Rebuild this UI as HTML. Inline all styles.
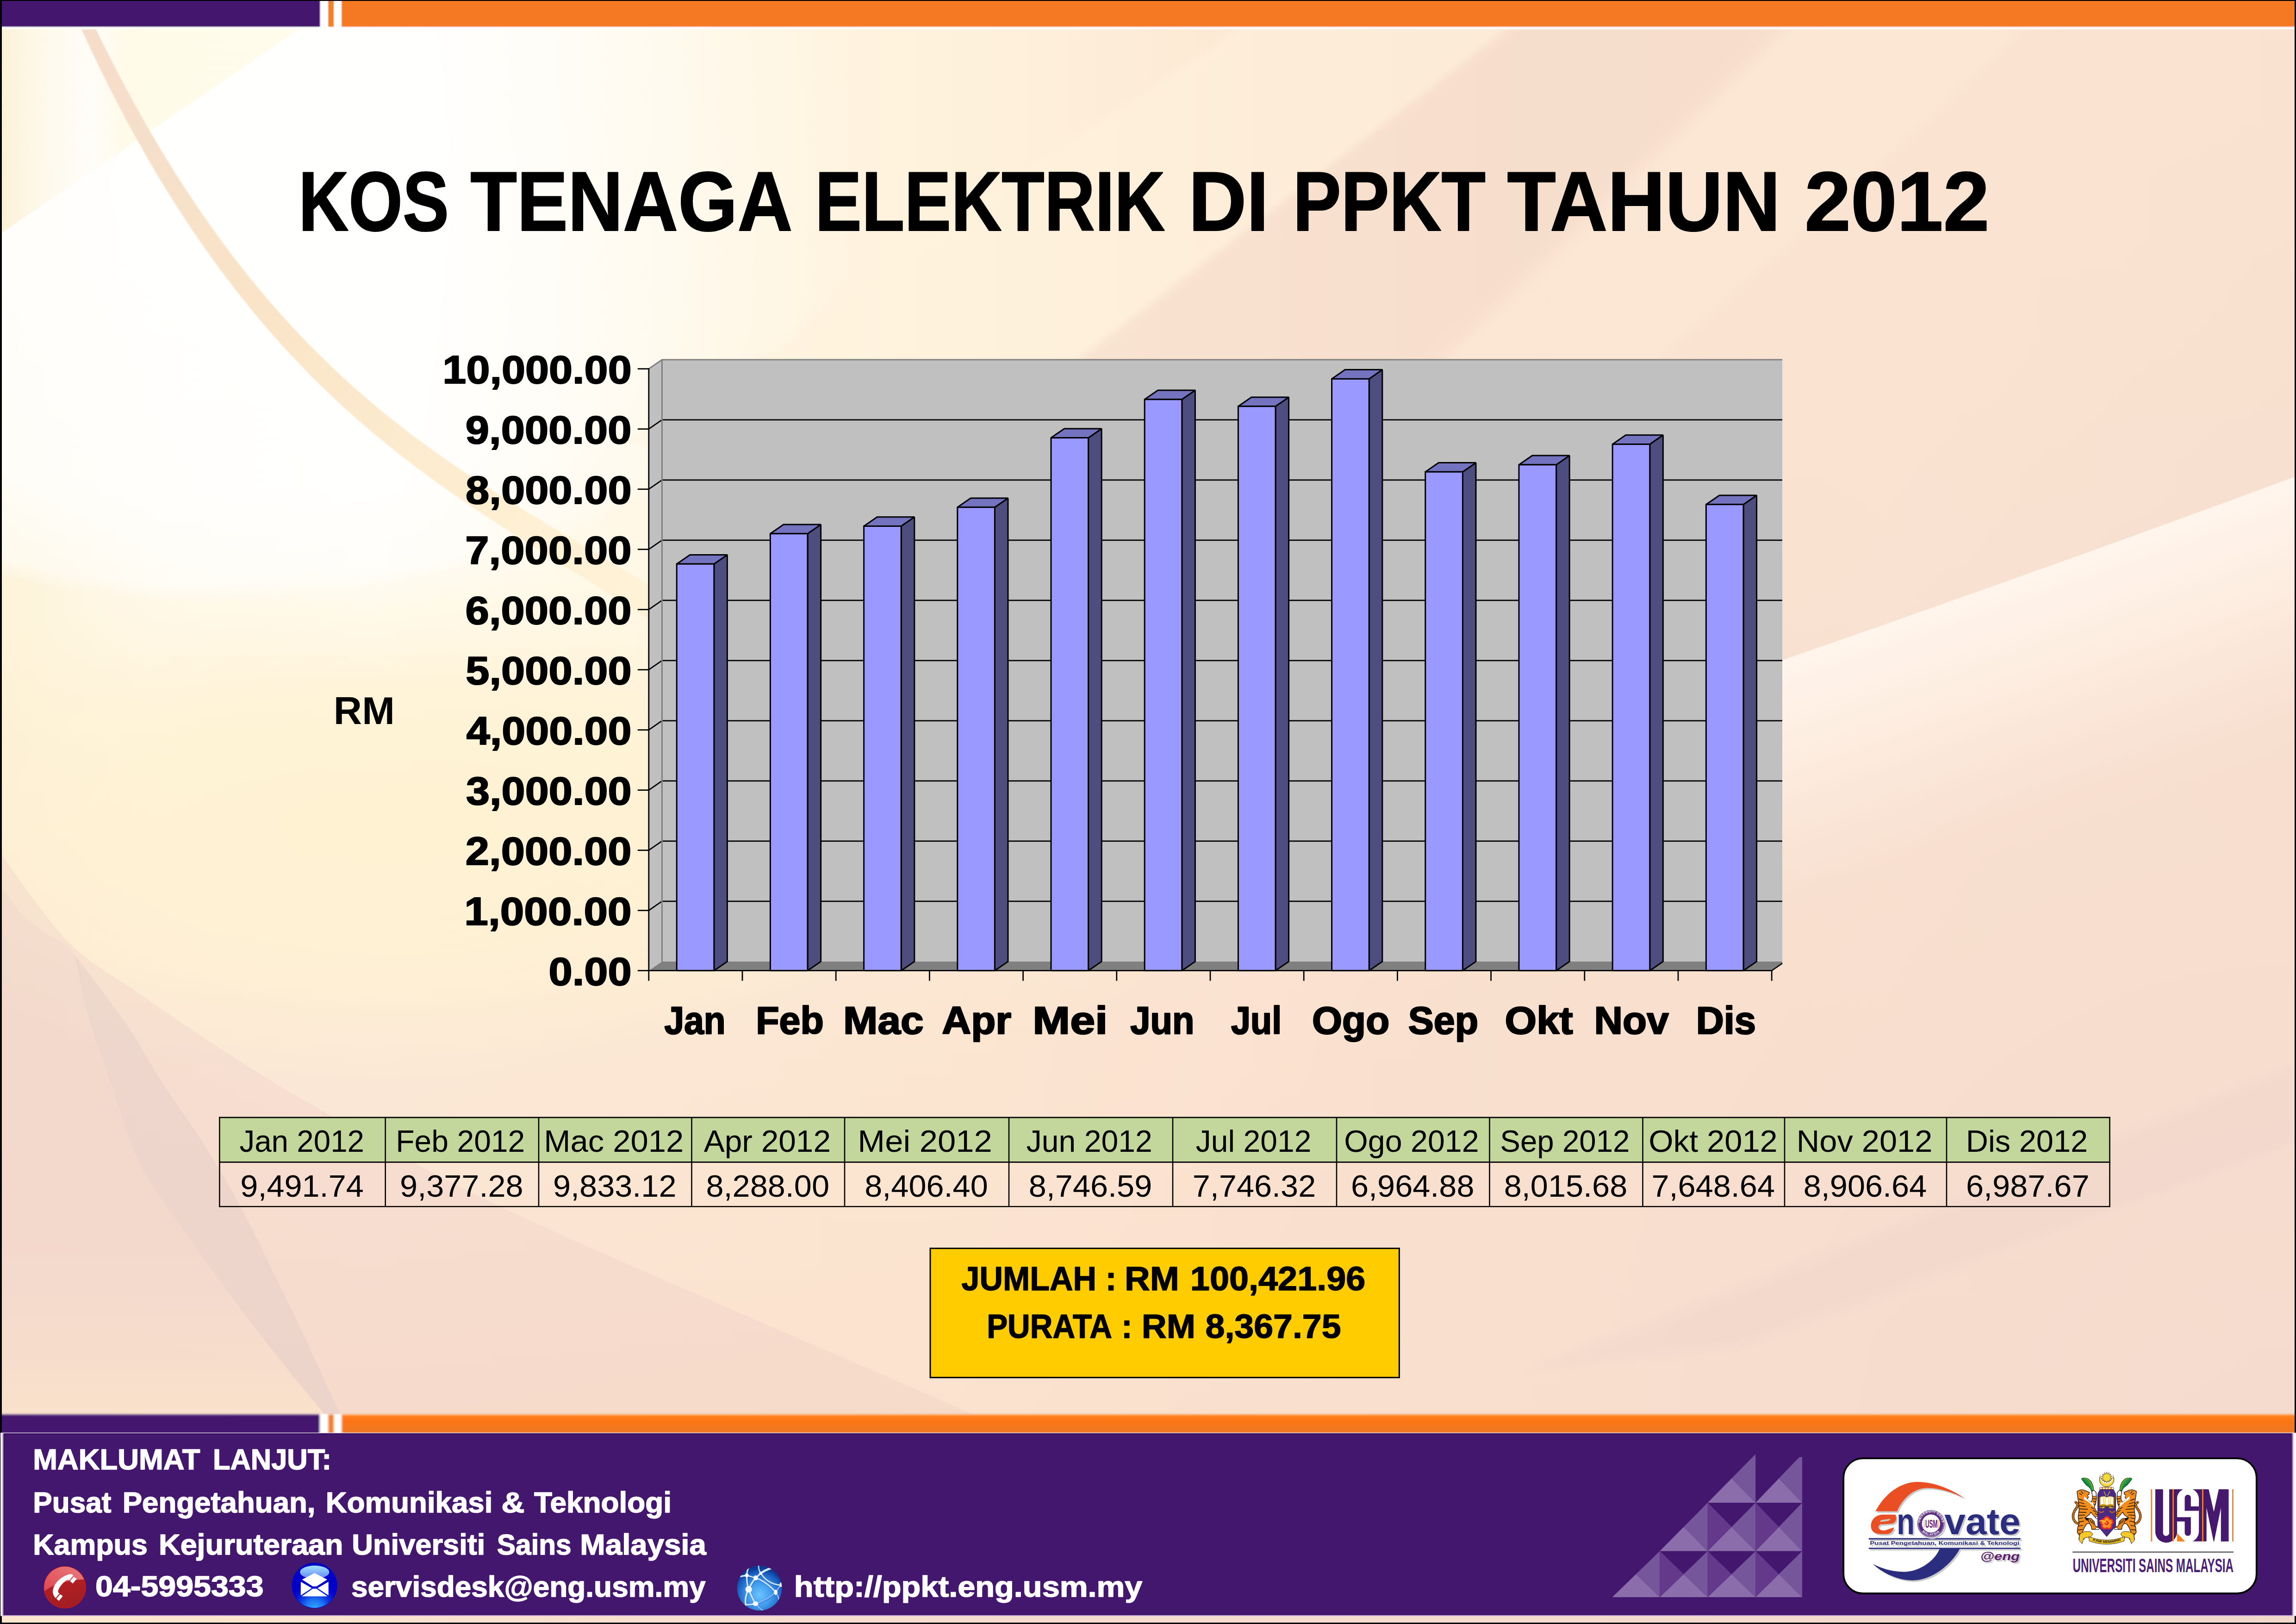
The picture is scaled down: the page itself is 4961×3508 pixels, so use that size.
<!DOCTYPE html>
<html><head><meta charset="utf-8"><title>Kos Tenaga Elektrik di PPKT Tahun 2012</title>
<style>
html,body{margin:0;padding:0;background:#000;}
body{width:4961px;height:3508px;overflow:hidden;position:relative;font-family:"Liberation Sans",sans-serif;}
svg{position:absolute;left:0;top:0;display:block}
text{font-family:"Liberation Sans",sans-serif;white-space:pre}
</style></head><body>
<svg width="4961" height="3508" viewBox="0 0 4961 3508">
<defs>
<linearGradient id="bgH" x1="0" y1="0" x2="1" y2="0">
<stop offset="0" stop-color="#FDF3D8"/><stop offset="0.07" stop-color="#FFF9EA"/><stop offset="0.16" stop-color="#FFFCF3"/><stop offset="0.30" stop-color="#FFF7E4"/>
<stop offset="0.44" stop-color="#FEF0DA"/><stop offset="0.55" stop-color="#FCE8D3"/><stop offset="0.67" stop-color="#F9E2CF"/><stop offset="0.82" stop-color="#FAE4D1"/><stop offset="1" stop-color="#F9E2D0"/>
</linearGradient>
<linearGradient id="bgV" x1="0" y1="0" x2="0" y2="1">
<stop offset="0" stop-color="#FAE2CE" stop-opacity="0"/><stop offset="0.40" stop-color="#FAE2CE" stop-opacity="0"/>
<stop offset="0.62" stop-color="#FAE2CE" stop-opacity="0.75"/><stop offset="0.87" stop-color="#FAE1CD" stop-opacity="0.95"/><stop offset="1" stop-color="#F8DECB" stop-opacity="1"/>
</linearGradient>
<radialGradient id="glowW" cx="0.5" cy="0.5" r="0.5"><stop offset="0" stop-color="#fff" stop-opacity="0.92"/><stop offset="0.75" stop-color="#fff" stop-opacity="0.8"/><stop offset="0.955" stop-color="#fff" stop-opacity="0.5"/><stop offset="1" stop-color="#fff" stop-opacity="0"/></radialGradient>
<linearGradient id="swG" gradientUnits="userSpaceOnUse" x1="4380" y1="1240" x2="4560" y2="1760"><stop offset="0" stop-color="#FFF5EC" stop-opacity="1"/><stop offset="0.4" stop-color="#FFF1E6" stop-opacity="0.7"/><stop offset="1" stop-color="#FBE6D8" stop-opacity="0"/></linearGradient>
<radialGradient id="glowY" cx="0.5" cy="0.5" r="0.5"><stop offset="0" stop-color="#FFF2D2" stop-opacity="1"/><stop offset="0.5" stop-color="#FFF2D2" stop-opacity="0.8"/><stop offset="1" stop-color="#FFF2D2" stop-opacity="0"/></radialGradient>
<linearGradient id="bandG" x1="0" y1="0" x2="1" y2="1">
<stop offset="0" stop-color="#F4DCCB"/><stop offset="0.4" stop-color="#FAE4C8"/><stop offset="0.7" stop-color="#FDEAC6" stop-opacity="0.8"/><stop offset="1" stop-color="#FEEFCB" stop-opacity="0.4"/>
</linearGradient>
<linearGradient id="orB" gradientUnits="userSpaceOnUse" x1="0" y1="3055" x2="0" y2="3096"><stop offset="0" stop-color="#FF8522"/><stop offset="0.35" stop-color="#FC7411"/><stop offset="1" stop-color="#EC7A28"/></linearGradient>
<filter id="blur40" x="-20%" y="-20%" width="140%" height="140%"><feGaussianBlur stdDeviation="40"/></filter>
<filter id="blur8" x="-20%" y="-20%" width="140%" height="140%"><feGaussianBlur stdDeviation="8"/></filter>
<filter id="blur2"><feGaussianBlur stdDeviation="1.2"/></filter>
<linearGradient id="fadeRg" gradientUnits="userSpaceOnUse" x1="900" y1="0" x2="1900" y2="0"><stop offset="0" stop-color="#fff"/><stop offset="1" stop-color="#000"/></linearGradient>
<mask id="fadeR" maskUnits="userSpaceOnUse" x="-1000" y="-600" width="3000" height="2000"><rect x="-1000" y="-600" width="3000" height="2000" fill="url(#fadeRg)"/></mask>
<filter id="blur25" x="-20%" y="-20%" width="140%" height="140%"><feGaussianBlur stdDeviation="22"/></filter>
<linearGradient id="warmG" gradientUnits="userSpaceOnUse" x1="0" y1="2300" x2="0" y2="3055"><stop offset="0" stop-color="#F3D9CD" stop-opacity="0"/><stop offset="0.5" stop-color="#F4DACD" stop-opacity="0.3"/><stop offset="1" stop-color="#FAE3CB" stop-opacity="0.85"/></linearGradient>
<linearGradient id="pinkRx" x1="0" y1="0" x2="1" y2="0"><stop offset="0" stop-color="#fff" stop-opacity="0"/><stop offset="0.5" stop-color="#fff" stop-opacity="0.8"/><stop offset="1" stop-color="#fff" stop-opacity="1"/></linearGradient>
<radialGradient id="pinkR" gradientUnits="userSpaceOnUse" cx="4961" cy="3150" r="2900"><stop offset="0" stop-color="#EED2CC" stop-opacity="0.45"/><stop offset="0.45" stop-color="#EFD3CD" stop-opacity="0.27"/><stop offset="1" stop-color="#EFD3CD" stop-opacity="0"/></radialGradient>
<linearGradient id="tlG" gradientUnits="userSpaceOnUse" x1="0" y1="0" x2="646" y2="0"><stop offset="0" stop-color="#FBEDC8" stop-opacity="0.75"/><stop offset="0.18" stop-color="#FCF2D8" stop-opacity="0.35"/><stop offset="0.31" stop-color="#FDF5E0" stop-opacity="0.18"/><stop offset="0.42" stop-color="#FFF8D8" stop-opacity="0.55"/><stop offset="1" stop-color="#FFF9DC" stop-opacity="0.5"/></linearGradient>
<clipPath id="page"><rect x="4" y="63" width="4954" height="2992"/></clipPath>
</defs>
<rect x="0" y="0" width="4961" height="3508" fill="#000"/>
<rect x="4" y="2" width="4954" height="3503" fill="url(#bgH)"/>

<g clip-path="url(#page)">
<rect x="4" y="2" width="4954" height="3503" fill="url(#bgV)"/>
<rect x="1900" y="100" width="3100" height="3000" fill="url(#pinkR)"/>
<polygon points="4961,2300 4961,2470 3760,2915 3300,2960" fill="#E9CFC9" opacity="0.22" filter="url(#blur8)"/>
<ellipse cx="480" cy="400" rx="1400" ry="905" fill="url(#glowW)" mask="url(#fadeR)"/>
<ellipse cx="850" cy="1780" rx="1250" ry="560" fill="url(#glowY)"/>
<polygon points="4,63 646,63 4,503" fill="url(#tlG)"/>
<polygon points="3389,-40 3969,-40 2929,960 2089,960" fill="#F5DBCA" opacity="0.5" filter="url(#blur8)"/>
<polygon points="2830,-40 3389,-40 2089,960 1341,960" fill="#FFF3DE" opacity="0.5" filter="url(#blur8)"/>
<polygon points="3969,-40 4480,-40 3400,960 2929,960" fill="#FEEDD9" opacity="0.42" filter="url(#blur25)"/>
<path d="M4961,1029 Q4430,1225 3851,1426 L3700,1480 L3700,2300 L4961,2000 Z" fill="url(#swG)"/>
<polygon points="147.8,1.5 169.8,49.7 191.6,96.7 213.3,142.4 235.1,186.7 257.2,229.7 279.3,271.3 301.6,311.7 323.9,350.8 346.4,388.7 369.0,425.5 391.7,461.1 414.4,495.5 437.3,528.9 460.2,561.2 483.2,592.5 506.3,622.8 529.5,652.1 552.7,680.5 576.0,708.0 599.3,734.6 622.7,760.4 646.1,785.3 669.6,809.5 693.1,832.9 716.7,855.6 740.3,877.5 763.9,898.8 787.6,919.5 811.2,939.6 834.9,959.1 858.6,978.0 882.2,996.4 905.9,1014.4 929.6,1031.8 953.2,1048.9 976.9,1065.5 1000.5,1081.8 1024.0,1097.8 1047.6,1113.4 1071.1,1128.8 1094.5,1144.0 1117.9,1158.9 1141.3,1173.6 1164.5,1188.2 1187.8,1202.7 1210.9,1217.0 1234.0,1231.4 1257.0,1245.6 1279.9,1259.9 1302.8,1274.3 1325.5,1288.6 1348.1,1303.1 1370.7,1317.7 1393.2,1332.4 1415.5,1347.4 1437.7,1362.5 1459.9,1377.9 1481.9,1393.5 1503.8,1409.5 1542.0,1356.6 1519.2,1340.6 1496.3,1325.0 1473.3,1309.7 1450.3,1294.7 1427.2,1279.9 1404.1,1265.3 1380.9,1251.0 1357.7,1236.8 1334.5,1222.7 1311.2,1208.8 1287.9,1194.9 1264.5,1181.0 1241.2,1167.2 1217.8,1153.3 1194.4,1139.4 1170.9,1125.3 1147.5,1111.2 1124.0,1096.9 1100.6,1082.4 1077.1,1067.7 1053.6,1052.8 1030.1,1037.5 1006.6,1022.0 983.1,1006.1 959.6,989.9 936.1,973.2 912.5,956.1 889.0,938.6 865.5,920.5 842.0,902.0 818.5,882.8 795.1,863.1 771.6,842.7 748.1,821.7 724.7,800.0 701.3,777.6 677.9,754.4 654.5,730.5 631.1,705.7 607.8,680.1 584.5,653.6 561.2,626.2 538.0,597.8 514.8,568.5 491.6,538.1 468.5,506.8 445.4,474.3 422.4,440.8 399.4,406.1 376.5,370.2 353.6,333.2 330.8,294.9 308.0,255.4 285.3,214.6 262.7,172.5 240.1,129.0 217.5,84.2 195.2,37.9 173.3,-10.0" fill="url(#bandG)" filter="url(#blur2)"/>
<path d="M4,1848 C28.0,1879.2 99.3,1985.8 148,2035 C196.7,2084.2 238.5,2102.8 296,2143 C353.5,2183.2 423.3,2231.7 493,2276 C562.7,2320.3 611.2,2351.7 714,2409 C816.8,2466.3 895.0,2519.5 1110,2620 C1325.0,2720.5 1837.3,2938.7 2004,3012 C2170.7,3085.3 2092.3,3052.0 2110,3060  L4,3060 Z" fill="#ECCDC8" opacity="0.34"/>
<path d="M163,2064 C181.8,2089.5 245.7,2172.7 276,2217 C306.3,2261.3 321.2,2293.0 345,2330 C368.8,2367.0 400.2,2410.7 419,2439 C437.8,2467.3 440.0,2469.8 458,2500 C476.0,2530.2 496.7,2561.7 527,2620 C557.3,2678.3 605.3,2777.7 640,2850 C674.7,2922.3 718.7,3019.0 735,3054 C751.3,3089.0 737.5,3059.0 738,3060  L703,3060 C702.5,3059.0 723.8,3084.0 700,3054 C676.2,3024.0 615.0,2952.3 560,2880 C505.0,2807.7 414.0,2683.3 370,2620 C326.0,2556.7 317.7,2546.7 296,2500 C274.3,2453.3 257.7,2391.3 240,2340 C222.3,2288.7 202.8,2238.0 190,2192 C177.2,2146.0 167.5,2085.3 163,2064  Z" fill="#DCC8C6" opacity="0.34"/>
<path d="M4,1917 C11.5,1926.8 33.3,1959.7 49,1976 C64.7,1992.3 79.0,2000.3 98,2015 C117.0,2029.7 147.7,2034.5 163,2064 C178.3,2093.5 177.2,2146.0 190,2192 C202.8,2238.0 222.3,2288.7 240,2340 C257.7,2391.3 274.3,2453.3 296,2500 C317.7,2546.7 326.0,2556.7 370,2620 C414.0,2683.3 505.0,2807.7 560,2880 C615.0,2952.3 676.2,3024.0 700,3054 C723.8,3084.0 702.5,3059.0 703,3060  L4,3060 Z" fill="#E9CBC8" opacity="0.22"/>
<path d="M4,1917 C11.5,1926.8 33.3,1959.7 49,1976 C64.7,1992.3 79.0,2000.3 98,2015 C117.0,2029.7 147.7,2034.5 163,2064 C178.3,2093.5 177.2,2146.0 190,2192 C202.8,2238.0 222.3,2288.7 240,2340 C257.7,2391.3 274.3,2453.3 296,2500 C317.7,2546.7 326.0,2556.7 370,2620 C414.0,2683.3 505.0,2807.7 560,2880 C615.0,2952.3 676.2,3024.0 700,3054 C723.8,3084.0 702.5,3059.0 703,3060  L4,3060 Z" fill="url(#warmG)"/>
</g>
<defs><filter id="blurTop" x="-1%" y="-30%" width="102%" height="160%"><feGaussianBlur stdDeviation="1.1"/></filter></defs>
<g filter="url(#blurTop)">
<rect x="-10" y="-10" width="4990" height="73" fill="#fff"/>
<rect x="-10" y="-10" width="701.5" height="68" fill="#44176E"/>
<rect x="709" y="-10" width="12.3" height="68" fill="#F08228"/>
<rect x="738" y="-10" width="4240" height="68" fill="#F47920"/>
</g>
<rect x="0" y="0" width="4961" height="2" fill="#000"/><rect x="0" y="0" width="4" height="70" fill="#000"/><rect x="4958" y="0" width="3" height="70" fill="#000"/>
<defs><linearGradient id="stripG" x1="0" y1="0" x2="1" y2="0"><stop offset="0" stop-color="#FEE6CE"/><stop offset="0.35" stop-color="#F6DDCF"/><stop offset="1" stop-color="#F2D8CB"/></linearGradient><linearGradient id="ftL" gradientUnits="userSpaceOnUse" x1="1.2" y1="0" x2="11" y2="0"><stop offset="0" stop-color="#fff"/><stop offset="0.35" stop-color="#F6E9FB"/><stop offset="0.7" stop-color="#5B3A7C"/><stop offset="0.85" stop-color="#2F0F57"/><stop offset="1" stop-color="#44176E"/></linearGradient><linearGradient id="ftR" gradientUnits="userSpaceOnUse" x1="4961" y1="0" x2="4948" y2="0"><stop offset="0" stop-color="#fff"/><stop offset="0.4" stop-color="#F6E9FB"/><stop offset="0.75" stop-color="#3A1662"/><stop offset="1" stop-color="#44176E"/></linearGradient><filter id="blurBar" x="-1%" y="-30%" width="102%" height="160%"><feGaussianBlur stdDeviation="2.3"/></filter></defs>
<rect x="4" y="3490" width="4954" height="15" fill="url(#stripG)"/>
<g filter="url(#blurBar)">
<rect x="-10" y="3055.5" width="4990" height="50" fill="#fff"/>
<rect x="-10" y="3055.5" width="701" height="50" fill="#44176E"/>
<rect x="709" y="3055.5" width="12.3" height="50" fill="#F08228"/>
<rect x="738" y="3055.5" width="4240" height="50" fill="url(#orB)"/>
</g>
<rect x="0" y="3040" width="4" height="56" fill="#000"/><rect x="4958" y="3040" width="3" height="56" fill="#000"/>
<rect x="1.2" y="3095.5" width="4959.8" height="395" fill="#44176E"/>
<rect x="1.2" y="3095.5" width="10" height="395" fill="url(#ftL)"/>
<rect x="4948" y="3095.5" width="13" height="395" fill="url(#ftR)"/>
<rect x="1.2" y="3094.6" width="4959.8" height="1.6" fill="#EADCF2"/>
<rect x="10" y="3096.2" width="4940" height="2" fill="#2E0C56"/>
<rect x="1.2" y="3489.2" width="4959.8" height="1.5" fill="#E6D6F0"/>
<text x="644.97" y="498.3" font-size="182.0" font-weight="bold" fill="#000" textLength="325.16" lengthAdjust="spacingAndGlyphs"  stroke="#000" stroke-width="2.2" stroke-linejoin="round">KOS</text>
<text x="1016.15" y="498.3" font-size="182.0" font-weight="bold" fill="#000" textLength="696.45" lengthAdjust="spacingAndGlyphs"  stroke="#000" stroke-width="2.2" stroke-linejoin="round">TENAGA</text>
<text x="1761.09" y="498.3" font-size="182.0" font-weight="bold" fill="#000" textLength="756.04" lengthAdjust="spacingAndGlyphs"  stroke="#000" stroke-width="2.2" stroke-linejoin="round">ELEKTRIK</text>
<text x="2567.98" y="498.3" font-size="182.0" font-weight="bold" fill="#000" textLength="173.65" lengthAdjust="spacingAndGlyphs"  stroke="#000" stroke-width="2.2" stroke-linejoin="round">DI</text>
<text x="2793.46" y="498.3" font-size="182.0" font-weight="bold" fill="#000" textLength="416.52" lengthAdjust="spacingAndGlyphs"  stroke="#000" stroke-width="2.2" stroke-linejoin="round">PPKT</text>
<text x="3256.48" y="498.3" font-size="182.0" font-weight="bold" fill="#000" textLength="590.53" lengthAdjust="spacingAndGlyphs"  stroke="#000" stroke-width="2.2" stroke-linejoin="round">TAHUN</text>
<text x="3899.22" y="498.3" font-size="182.0" font-weight="bold" fill="#000" textLength="399.25" lengthAdjust="spacingAndGlyphs"  stroke="#000" stroke-width="2.2" stroke-linejoin="round">2012</text>
<g stroke-linejoin="miter" stroke-miterlimit="2">
<polygon points="1401.8,796.6999999999998 1430.3999999999999,776.8999999999999 1430.3999999999999,2076.8999999999996 1401.8,2096.7" fill="#C0C0C0"/>
<rect x="1430.3999999999999" y="776.8999999999999" width="2420.6000000000004" height="1300.0" fill="#C0C0C0"/>
<polygon points="1401.8,2096.7 1430.3999999999999,2076.8999999999996 3851,2076.8999999999996 3851,2080.8999999999996 3828.2,2096.7" fill="#808080"/>
<path d="M1401.8,1966.6999999999998 L1430.3999999999999,1946.8999999999996 L3851,1946.8999999999996" fill="none" stroke="#000" stroke-width="2.8"/>
<path d="M1401.8,1836.6999999999998 L1430.3999999999999,1816.8999999999996 L3851,1816.8999999999996" fill="none" stroke="#000" stroke-width="2.8"/>
<path d="M1401.8,1706.6999999999998 L1430.3999999999999,1686.8999999999996 L3851,1686.8999999999996" fill="none" stroke="#000" stroke-width="2.8"/>
<path d="M1401.8,1576.6999999999998 L1430.3999999999999,1556.8999999999996 L3851,1556.8999999999996" fill="none" stroke="#000" stroke-width="2.8"/>
<path d="M1401.8,1446.6999999999998 L1430.3999999999999,1426.8999999999996 L3851,1426.8999999999996" fill="none" stroke="#000" stroke-width="2.8"/>
<path d="M1401.8,1316.6999999999998 L1430.3999999999999,1296.8999999999996 L3851,1296.8999999999996" fill="none" stroke="#000" stroke-width="2.8"/>
<path d="M1401.8,1186.6999999999998 L1430.3999999999999,1166.8999999999996 L3851,1166.8999999999996" fill="none" stroke="#000" stroke-width="2.8"/>
<path d="M1401.8,1056.6999999999998 L1430.3999999999999,1036.8999999999996 L3851,1036.8999999999996" fill="none" stroke="#000" stroke-width="2.8"/>
<path d="M1401.8,926.6999999999998 L1430.3999999999999,906.8999999999996 L3851,906.8999999999996" fill="none" stroke="#000" stroke-width="2.8"/>
<path d="M1401.8,796.6999999999998 L1430.3999999999999,776.8999999999999 L3851,776.8999999999999" fill="none" stroke="#808080" stroke-width="3"/>
<path d="M1430.3999999999999,776.8999999999999 L1430.3999999999999,2076.8999999999996" fill="none" stroke="#808080" stroke-width="3"/>
<path d="M3828.2,2096.7 L3851,2080.8999999999996" fill="none" stroke="#000" stroke-width="2.5"/>
<polygon points="1542.8,1218.2 1571.4,1198.4 1571.4,2076.9 1542.8,2096.7" fill="#4D4D80" stroke="#000" stroke-width="3"/>
<polygon points="1462.2,1218.2 1490.8,1198.4 1571.4,1198.4 1542.8,1218.2" fill="#7373BF" stroke="#000" stroke-width="3"/>
<rect x="1462.2" y="1218.2" width="80.6" height="878.5" fill="#9999FF" stroke="#000" stroke-width="3"/>
<polygon points="1745.0,1152.8 1773.6,1133.0 1773.6,2076.9 1745.0,2096.7" fill="#4D4D80" stroke="#000" stroke-width="3"/>
<polygon points="1664.4,1152.8 1693.0,1133.0 1773.6,1133.0 1745.0,1152.8" fill="#7373BF" stroke="#000" stroke-width="3"/>
<rect x="1664.4" y="1152.8" width="80.6" height="943.9" fill="#9999FF" stroke="#000" stroke-width="3"/>
<polygon points="1947.2,1136.5 1975.8,1116.7 1975.8,2076.9 1947.2,2096.7" fill="#4D4D80" stroke="#000" stroke-width="3"/>
<polygon points="1866.6,1136.5 1895.2,1116.7 1975.8,1116.7 1947.2,1136.5" fill="#7373BF" stroke="#000" stroke-width="3"/>
<rect x="1866.6" y="1136.5" width="80.6" height="960.2" fill="#9999FF" stroke="#000" stroke-width="3"/>
<polygon points="2149.4,1095.7 2178.0,1075.9 2178.0,2076.9 2149.4,2096.7" fill="#4D4D80" stroke="#000" stroke-width="3"/>
<polygon points="2068.8,1095.7 2097.4,1075.9 2178.0,1075.9 2149.4,1095.7" fill="#7373BF" stroke="#000" stroke-width="3"/>
<rect x="2068.8" y="1095.7" width="80.6" height="1001.0" fill="#9999FF" stroke="#000" stroke-width="3"/>
<polygon points="2351.6,945.7 2380.2,925.9 2380.2,2076.9 2351.6,2096.7" fill="#4D4D80" stroke="#000" stroke-width="3"/>
<polygon points="2271.0,945.7 2299.6,925.9 2380.2,925.9 2351.6,945.7" fill="#7373BF" stroke="#000" stroke-width="3"/>
<rect x="2271.0" y="945.7" width="80.6" height="1151.0" fill="#9999FF" stroke="#000" stroke-width="3"/>
<polygon points="2553.8,862.8 2582.4,843.0 2582.4,2076.9 2553.8,2096.7" fill="#4D4D80" stroke="#000" stroke-width="3"/>
<polygon points="2473.2,862.8 2501.8,843.0 2582.4,843.0 2553.8,862.8" fill="#7373BF" stroke="#000" stroke-width="3"/>
<rect x="2473.2" y="862.8" width="80.6" height="1233.9" fill="#9999FF" stroke="#000" stroke-width="3"/>
<polygon points="2756.0,877.7 2784.6,857.9 2784.6,2076.9 2756.0,2096.7" fill="#4D4D80" stroke="#000" stroke-width="3"/>
<polygon points="2675.4,877.7 2704.0,857.9 2784.6,857.9 2756.0,877.7" fill="#7373BF" stroke="#000" stroke-width="3"/>
<rect x="2675.4" y="877.7" width="80.6" height="1219.0" fill="#9999FF" stroke="#000" stroke-width="3"/>
<polygon points="2958.2,818.4 2986.8,798.6 2986.8,2076.9 2958.2,2096.7" fill="#4D4D80" stroke="#000" stroke-width="3"/>
<polygon points="2877.6,818.4 2906.2,798.6 2986.8,798.6 2958.2,818.4" fill="#7373BF" stroke="#000" stroke-width="3"/>
<rect x="2877.6" y="818.4" width="80.6" height="1278.3" fill="#9999FF" stroke="#000" stroke-width="3"/>
<polygon points="3160.4,1019.3 3189.0,999.5 3189.0,2076.9 3160.4,2096.7" fill="#4D4D80" stroke="#000" stroke-width="3"/>
<polygon points="3079.8,1019.3 3108.4,999.5 3189.0,999.5 3160.4,1019.3" fill="#7373BF" stroke="#000" stroke-width="3"/>
<rect x="3079.8" y="1019.3" width="80.6" height="1077.4" fill="#9999FF" stroke="#000" stroke-width="3"/>
<polygon points="3362.6,1003.9 3391.2,984.1 3391.2,2076.9 3362.6,2096.7" fill="#4D4D80" stroke="#000" stroke-width="3"/>
<polygon points="3282.0,1003.9 3310.6,984.1 3391.2,984.1 3362.6,1003.9" fill="#7373BF" stroke="#000" stroke-width="3"/>
<rect x="3282.0" y="1003.9" width="80.6" height="1092.8" fill="#9999FF" stroke="#000" stroke-width="3"/>
<polygon points="3564.8,959.6 3593.4,939.8 3593.4,2076.9 3564.8,2096.7" fill="#4D4D80" stroke="#000" stroke-width="3"/>
<polygon points="3484.2,959.6 3512.8,939.8 3593.4,939.8 3564.8,959.6" fill="#7373BF" stroke="#000" stroke-width="3"/>
<rect x="3484.2" y="959.6" width="80.6" height="1137.1" fill="#9999FF" stroke="#000" stroke-width="3"/>
<polygon points="3767.0,1089.7 3795.6,1069.9 3795.6,2076.9 3767.0,2096.7" fill="#4D4D80" stroke="#000" stroke-width="3"/>
<polygon points="3686.4,1089.7 3715.0,1069.9 3795.6,1069.9 3767.0,1089.7" fill="#7373BF" stroke="#000" stroke-width="3"/>
<rect x="3686.4" y="1089.7" width="80.6" height="1007.0" fill="#9999FF" stroke="#000" stroke-width="3"/>
<path d="M1401.8,795.2999999999998 L1401.8,2096.7" stroke="#000" stroke-width="2.8" fill="none"/>
<path d="M1377.8,2096.7 L3829.6,2096.7" stroke="#000" stroke-width="2.8" fill="none"/>
<path d="M1377.8,1966.6999999999998 L1401.8,1966.6999999999998" stroke="#000" stroke-width="2.8" fill="none"/>
<path d="M1377.8,1836.6999999999998 L1401.8,1836.6999999999998" stroke="#000" stroke-width="2.8" fill="none"/>
<path d="M1377.8,1706.6999999999998 L1401.8,1706.6999999999998" stroke="#000" stroke-width="2.8" fill="none"/>
<path d="M1377.8,1576.6999999999998 L1401.8,1576.6999999999998" stroke="#000" stroke-width="2.8" fill="none"/>
<path d="M1377.8,1446.6999999999998 L1401.8,1446.6999999999998" stroke="#000" stroke-width="2.8" fill="none"/>
<path d="M1377.8,1316.6999999999998 L1401.8,1316.6999999999998" stroke="#000" stroke-width="2.8" fill="none"/>
<path d="M1377.8,1186.6999999999998 L1401.8,1186.6999999999998" stroke="#000" stroke-width="2.8" fill="none"/>
<path d="M1377.8,1056.6999999999998 L1401.8,1056.6999999999998" stroke="#000" stroke-width="2.8" fill="none"/>
<path d="M1377.8,926.6999999999998 L1401.8,926.6999999999998" stroke="#000" stroke-width="2.8" fill="none"/>
<path d="M1377.8,796.6999999999998 L1401.8,796.6999999999998" stroke="#000" stroke-width="2.8" fill="none"/>
<path d="M1401.8,2096.7 L1401.8,2118.7" stroke="#000" stroke-width="2.8" fill="none"/>
<path d="M1604.0,2096.7 L1604.0,2118.7" stroke="#000" stroke-width="2.8" fill="none"/>
<path d="M1806.2,2096.7 L1806.2,2118.7" stroke="#000" stroke-width="2.8" fill="none"/>
<path d="M2008.4,2096.7 L2008.4,2118.7" stroke="#000" stroke-width="2.8" fill="none"/>
<path d="M2210.6,2096.7 L2210.6,2118.7" stroke="#000" stroke-width="2.8" fill="none"/>
<path d="M2412.8,2096.7 L2412.8,2118.7" stroke="#000" stroke-width="2.8" fill="none"/>
<path d="M2615.0,2096.7 L2615.0,2118.7" stroke="#000" stroke-width="2.8" fill="none"/>
<path d="M2817.2,2096.7 L2817.2,2118.7" stroke="#000" stroke-width="2.8" fill="none"/>
<path d="M3019.4,2096.7 L3019.4,2118.7" stroke="#000" stroke-width="2.8" fill="none"/>
<path d="M3221.6,2096.7 L3221.6,2118.7" stroke="#000" stroke-width="2.8" fill="none"/>
<path d="M3423.8,2096.7 L3423.8,2118.7" stroke="#000" stroke-width="2.8" fill="none"/>
<path d="M3626.0,2096.7 L3626.0,2118.7" stroke="#000" stroke-width="2.8" fill="none"/>
<path d="M3828.2,2096.7 L3828.2,2118.7" stroke="#000" stroke-width="2.8" fill="none"/>
</g>
<text x="1185.42" y="2128.0" font-size="86.0" font-weight="bold" fill="#000" textLength="179.30" lengthAdjust="spacingAndGlyphs"  stroke="#000" stroke-width="2.2" stroke-linejoin="round">0.00</text>
<text x="1003.30" y="1998.0" font-size="86.0" font-weight="bold" fill="#000" textLength="361.34" lengthAdjust="spacingAndGlyphs"  stroke="#000" stroke-width="2.2" stroke-linejoin="round">1,000.00</text>
<text x="1005.87" y="1868.0" font-size="86.0" font-weight="bold" fill="#000" textLength="358.73" lengthAdjust="spacingAndGlyphs"  stroke="#000" stroke-width="2.2" stroke-linejoin="round">2,000.00</text>
<text x="1007.03" y="1738.0" font-size="86.0" font-weight="bold" fill="#000" textLength="357.56" lengthAdjust="spacingAndGlyphs"  stroke="#000" stroke-width="2.2" stroke-linejoin="round">3,000.00</text>
<text x="1007.72" y="1608.0" font-size="86.0" font-weight="bold" fill="#000" textLength="356.86" lengthAdjust="spacingAndGlyphs"  stroke="#000" stroke-width="2.2" stroke-linejoin="round">4,000.00</text>
<text x="1006.34" y="1478.0" font-size="86.0" font-weight="bold" fill="#000" textLength="358.26" lengthAdjust="spacingAndGlyphs"  stroke="#000" stroke-width="2.2" stroke-linejoin="round">5,000.00</text>
<text x="1005.64" y="1348.0" font-size="86.0" font-weight="bold" fill="#000" textLength="358.97" lengthAdjust="spacingAndGlyphs"  stroke="#000" stroke-width="2.2" stroke-linejoin="round">6,000.00</text>
<text x="1005.18" y="1218.0" font-size="86.0" font-weight="bold" fill="#000" textLength="359.44" lengthAdjust="spacingAndGlyphs"  stroke="#000" stroke-width="2.2" stroke-linejoin="round">7,000.00</text>
<text x="1006.11" y="1088.0" font-size="86.0" font-weight="bold" fill="#000" textLength="358.50" lengthAdjust="spacingAndGlyphs"  stroke="#000" stroke-width="2.2" stroke-linejoin="round">8,000.00</text>
<text x="1005.87" y="958.0" font-size="86.0" font-weight="bold" fill="#000" textLength="358.73" lengthAdjust="spacingAndGlyphs"  stroke="#000" stroke-width="2.2" stroke-linejoin="round">9,000.00</text>
<text x="956.36" y="828.0" font-size="86.0" font-weight="bold" fill="#000" textLength="408.34" lengthAdjust="spacingAndGlyphs"  stroke="#000" stroke-width="2.2" stroke-linejoin="round">10,000.00</text>
<text x="1435.55" y="2233.2" font-size="83.6" font-weight="bold" fill="#000" textLength="132.10" lengthAdjust="spacingAndGlyphs"  stroke="#000" stroke-width="2.6" stroke-linejoin="round">Jan</text>
<text x="1633.23" y="2233.2" font-size="83.6" font-weight="bold" fill="#000" textLength="146.70" lengthAdjust="spacingAndGlyphs"  stroke="#000" stroke-width="2.6" stroke-linejoin="round">Feb</text>
<text x="1821.97" y="2233.2" font-size="83.6" font-weight="bold" fill="#000" textLength="173.82" lengthAdjust="spacingAndGlyphs"  stroke="#000" stroke-width="2.6" stroke-linejoin="round">Mac</text>
<text x="2035.32" y="2233.2" font-size="83.6" font-weight="bold" fill="#000" textLength="149.86" lengthAdjust="spacingAndGlyphs"  stroke="#000" stroke-width="2.6" stroke-linejoin="round">Apr</text>
<text x="2231.35" y="2233.2" font-size="83.6" font-weight="bold" fill="#000" textLength="161.80" lengthAdjust="spacingAndGlyphs"  stroke="#000" stroke-width="2.6" stroke-linejoin="round">Mei</text>
<text x="2442.33" y="2233.2" font-size="83.6" font-weight="bold" fill="#000" textLength="138.26" lengthAdjust="spacingAndGlyphs"  stroke="#000" stroke-width="2.6" stroke-linejoin="round">Jun</text>
<text x="2660.07" y="2233.2" font-size="83.6" font-weight="bold" fill="#000" textLength="109.22" lengthAdjust="spacingAndGlyphs"  stroke="#000" stroke-width="2.6" stroke-linejoin="round">Jul</text>
<text x="2834.95" y="2233.2" font-size="83.6" font-weight="bold" fill="#000" textLength="167.36" lengthAdjust="spacingAndGlyphs"  stroke="#000" stroke-width="2.6" stroke-linejoin="round">Ogo</text>
<text x="3042.72" y="2233.2" font-size="83.6" font-weight="bold" fill="#000" textLength="151.40" lengthAdjust="spacingAndGlyphs"  stroke="#000" stroke-width="2.6" stroke-linejoin="round">Sep</text>
<text x="3251.57" y="2233.2" font-size="83.6" font-weight="bold" fill="#000" textLength="147.09" lengthAdjust="spacingAndGlyphs"  stroke="#000" stroke-width="2.6" stroke-linejoin="round">Okt</text>
<text x="3444.54" y="2233.2" font-size="83.6" font-weight="bold" fill="#000" textLength="161.12" lengthAdjust="spacingAndGlyphs"  stroke="#000" stroke-width="2.6" stroke-linejoin="round">Nov</text>
<text x="3664.69" y="2233.2" font-size="83.6" font-weight="bold" fill="#000" textLength="129.44" lengthAdjust="spacingAndGlyphs"  stroke="#000" stroke-width="2.6" stroke-linejoin="round">Dis</text>
<text x="720.87" y="1563.5" font-size="83.6" font-weight="bold" fill="#000" textLength="131.97" lengthAdjust="spacingAndGlyphs" >RM</text>
<rect x="474.4" y="2413.9" width="4084.1" height="96.5" fill="#C3D69B"/>
<path d="M472.9,2413.9 L4560.0,2413.9" stroke="#000" stroke-width="2.6"/>
<path d="M472.9,2510.4 L4560.0,2510.4" stroke="#000" stroke-width="2.6"/>
<path d="M472.9,2606.2 L4560.0,2606.2" stroke="#000" stroke-width="2.6"/>
<path d="M474.4,2413.9 L474.4,2606.2" stroke="#000" stroke-width="2.6"/>
<path d="M832.7,2413.9 L832.7,2606.2" stroke="#000" stroke-width="2.6"/>
<path d="M1164,2413.9 L1164,2606.2" stroke="#000" stroke-width="2.6"/>
<path d="M1494.5,2413.9 L1494.5,2606.2" stroke="#000" stroke-width="2.6"/>
<path d="M1825,2413.9 L1825,2606.2" stroke="#000" stroke-width="2.6"/>
<path d="M2180,2413.9 L2180,2606.2" stroke="#000" stroke-width="2.6"/>
<path d="M2534,2413.9 L2534,2606.2" stroke="#000" stroke-width="2.6"/>
<path d="M2888,2413.9 L2888,2606.2" stroke="#000" stroke-width="2.6"/>
<path d="M3218.5,2413.9 L3218.5,2606.2" stroke="#000" stroke-width="2.6"/>
<path d="M3549.5,2413.9 L3549.5,2606.2" stroke="#000" stroke-width="2.6"/>
<path d="M3856,2413.9 L3856,2606.2" stroke="#000" stroke-width="2.6"/>
<path d="M4206,2413.9 L4206,2606.2" stroke="#000" stroke-width="2.6"/>
<path d="M4558.5,2413.9 L4558.5,2606.2" stroke="#000" stroke-width="2.6"/>
<text x="517.42" y="2487.5" font-size="67.0" font-weight="normal" fill="#000" textLength="269.62" lengthAdjust="spacingAndGlyphs" >Jan 2012</text>
<text x="519.33" y="2584.5" font-size="67" font-weight="normal" textLength="266.45" lengthAdjust="spacingAndGlyphs">9,491.74</text>
<text x="855.25" y="2487.5" font-size="67.0" font-weight="normal" fill="#000" textLength="279.10" lengthAdjust="spacingAndGlyphs" >Feb 2012</text>
<text x="864.13" y="2584.5" font-size="67" font-weight="normal" textLength="266.45" lengthAdjust="spacingAndGlyphs">9,377.28</text>
<text x="1175.33" y="2487.5" font-size="67.0" font-weight="normal" fill="#000" textLength="302.03" lengthAdjust="spacingAndGlyphs" >Mac 2012</text>
<text x="1195.03" y="2584.5" font-size="67" font-weight="normal" textLength="266.45" lengthAdjust="spacingAndGlyphs">9,833.12</text>
<text x="1520.63" y="2487.5" font-size="67.0" font-weight="normal" fill="#000" textLength="274.43" lengthAdjust="spacingAndGlyphs" >Apr 2012</text>
<text x="1525.53" y="2584.5" font-size="67" font-weight="normal" textLength="266.45" lengthAdjust="spacingAndGlyphs">8,288.00</text>
<text x="1853.38" y="2487.5" font-size="67.0" font-weight="normal" fill="#000" textLength="290.25" lengthAdjust="spacingAndGlyphs" >Mei 2012</text>
<text x="1868.28" y="2584.5" font-size="67" font-weight="normal" textLength="266.45" lengthAdjust="spacingAndGlyphs">8,406.40</text>
<text x="2217.81" y="2487.5" font-size="67.0" font-weight="normal" fill="#000" textLength="272.06" lengthAdjust="spacingAndGlyphs" >Jun 2012</text>
<text x="2222.78" y="2584.5" font-size="67" font-weight="normal" textLength="266.45" lengthAdjust="spacingAndGlyphs">8,746.59</text>
<text x="2583.71" y="2487.5" font-size="67.0" font-weight="normal" fill="#000" textLength="249.65" lengthAdjust="spacingAndGlyphs" >Jul 2012</text>
<text x="2576.78" y="2584.5" font-size="67" font-weight="normal" textLength="266.45" lengthAdjust="spacingAndGlyphs">7,746.32</text>
<text x="2904.15" y="2487.5" font-size="67.0" font-weight="normal" fill="#000" textLength="291.49" lengthAdjust="spacingAndGlyphs" >Ogo 2012</text>
<text x="2919.03" y="2584.5" font-size="67" font-weight="normal" textLength="266.45" lengthAdjust="spacingAndGlyphs">6,964.88</text>
<text x="3241.36" y="2487.5" font-size="67.0" font-weight="normal" fill="#000" textLength="280.04" lengthAdjust="spacingAndGlyphs" >Sep 2012</text>
<text x="3249.78" y="2584.5" font-size="67" font-weight="normal" textLength="266.45" lengthAdjust="spacingAndGlyphs">8,015.68</text>
<text x="3562.24" y="2487.5" font-size="67.0" font-weight="normal" fill="#000" textLength="278.54" lengthAdjust="spacingAndGlyphs" >Okt 2012</text>
<text x="3568.53" y="2584.5" font-size="67" font-weight="normal" textLength="266.45" lengthAdjust="spacingAndGlyphs">7,648.64</text>
<text x="3881.84" y="2487.5" font-size="67.0" font-weight="normal" fill="#000" textLength="293.44" lengthAdjust="spacingAndGlyphs" >Nov 2012</text>
<text x="3896.78" y="2584.5" font-size="67" font-weight="normal" textLength="266.45" lengthAdjust="spacingAndGlyphs">8,906.64</text>
<text x="4247.79" y="2487.5" font-size="67.0" font-weight="normal" fill="#000" textLength="263.37" lengthAdjust="spacingAndGlyphs" >Dis 2012</text>
<text x="4248.03" y="2584.5" font-size="67" font-weight="normal" textLength="266.45" lengthAdjust="spacingAndGlyphs">6,987.67</text>
<rect x="2010" y="2696.6" width="1013.4" height="279" fill="#FFCC00" stroke="#000" stroke-width="3"/>
<text x="2077.60" y="2787.2" font-size="71.6" font-weight="bold" fill="#000" textLength="291.41" lengthAdjust="spacingAndGlyphs"  stroke="#000" stroke-width="1.5" stroke-linejoin="round">JUMLAH</text>
<text x="2388.58" y="2787.2" font-size="71.6" font-weight="bold" fill="#000" textLength="24.07" lengthAdjust="spacingAndGlyphs"  stroke="#000" stroke-width="1.5" stroke-linejoin="round">:</text>
<text x="2430.14" y="2787.2" font-size="71.6" font-weight="bold" fill="#000" textLength="117.73" lengthAdjust="spacingAndGlyphs"  stroke="#000" stroke-width="1.5" stroke-linejoin="round">RM</text>
<text x="2571.82" y="2787.2" font-size="71.6" font-weight="bold" fill="#000" textLength="378.58" lengthAdjust="spacingAndGlyphs"  stroke="#000" stroke-width="1.5" stroke-linejoin="round">100,421.96</text>
<text x="2132.20" y="2889.5" font-size="71.6" font-weight="bold" fill="#000" textLength="270.64" lengthAdjust="spacingAndGlyphs"  stroke="#000" stroke-width="1.5" stroke-linejoin="round">PURATA</text>
<text x="2422.92" y="2889.5" font-size="71.6" font-weight="bold" fill="#000" textLength="23.60" lengthAdjust="spacingAndGlyphs"  stroke="#000" stroke-width="1.5" stroke-linejoin="round">:</text>
<text x="2466.71" y="2889.5" font-size="71.6" font-weight="bold" fill="#000" textLength="116.20" lengthAdjust="spacingAndGlyphs"  stroke="#000" stroke-width="1.5" stroke-linejoin="round">RM</text>
<text x="2604.50" y="2889.5" font-size="71.6" font-weight="bold" fill="#000" textLength="293.14" lengthAdjust="spacingAndGlyphs"  stroke="#000" stroke-width="1.5" stroke-linejoin="round">8,367.75</text>
<text x="71.27" y="3174.0" font-size="63.3" font-weight="bold" fill="#fff" textLength="361.30" lengthAdjust="spacingAndGlyphs"  stroke="#fff" stroke-width="1.5" stroke-linejoin="round">MAKLUMAT</text>
<text x="459.90" y="3174.0" font-size="63.3" font-weight="bold" fill="#fff" textLength="255.98" lengthAdjust="spacingAndGlyphs"  stroke="#fff" stroke-width="1.5" stroke-linejoin="round">LANJUT:</text>
<text x="71.36" y="3266.5" font-size="63.3" font-weight="bold" fill="#fff" textLength="169.01" lengthAdjust="spacingAndGlyphs"  stroke="#fff" stroke-width="1.5" stroke-linejoin="round">Pusat</text>
<text x="264.66" y="3266.5" font-size="63.3" font-weight="bold" fill="#fff" textLength="416.84" lengthAdjust="spacingAndGlyphs"  stroke="#fff" stroke-width="1.5" stroke-linejoin="round">Pengetahuan,</text>
<text x="703.75" y="3266.5" font-size="63.3" font-weight="bold" fill="#fff" textLength="360.69" lengthAdjust="spacingAndGlyphs"  stroke="#fff" stroke-width="1.5" stroke-linejoin="round">Komunikasi</text>
<text x="1083.22" y="3266.5" font-size="63.3" font-weight="bold" fill="#fff" textLength="50.27" lengthAdjust="spacingAndGlyphs"  stroke="#fff" stroke-width="1.5" stroke-linejoin="round">&amp;</text>
<text x="1154.11" y="3266.5" font-size="63.3" font-weight="bold" fill="#fff" textLength="296.95" lengthAdjust="spacingAndGlyphs"  stroke="#fff" stroke-width="1.5" stroke-linejoin="round">Teknologi</text>
<text x="71.32" y="3357.7" font-size="63.3" font-weight="bold" fill="#fff" textLength="247.47" lengthAdjust="spacingAndGlyphs"  stroke="#fff" stroke-width="1.5" stroke-linejoin="round">Kampus</text>
<text x="342.99" y="3357.7" font-size="63.3" font-weight="bold" fill="#fff" textLength="398.41" lengthAdjust="spacingAndGlyphs"  stroke="#fff" stroke-width="1.5" stroke-linejoin="round">Kejuruteraan</text>
<text x="760.36" y="3357.7" font-size="63.3" font-weight="bold" fill="#fff" textLength="288.00" lengthAdjust="spacingAndGlyphs"  stroke="#fff" stroke-width="1.5" stroke-linejoin="round">Universiti</text>
<text x="1073.64" y="3357.7" font-size="63.3" font-weight="bold" fill="#fff" textLength="161.06" lengthAdjust="spacingAndGlyphs"  stroke="#fff" stroke-width="1.5" stroke-linejoin="round">Sains</text>
<text x="1253.34" y="3357.7" font-size="63.3" font-weight="bold" fill="#fff" textLength="272.56" lengthAdjust="spacingAndGlyphs"  stroke="#fff" stroke-width="1.5" stroke-linejoin="round">Malaysia</text>
<text x="206.03" y="3448.3" font-size="63.3" font-weight="bold" fill="#fff" textLength="363.58" lengthAdjust="spacingAndGlyphs"  stroke="#fff" stroke-width="1.5" stroke-linejoin="round">04-5995333</text>
<text x="758.91" y="3448.9" font-size="63.3" font-weight="bold" fill="#fff" textLength="765.74" lengthAdjust="spacingAndGlyphs"  stroke="#fff" stroke-width="1.5" stroke-linejoin="round">servisdesk@eng.usm.my</text>
<text x="1715.86" y="3448.9" font-size="63.3" font-weight="bold" fill="#fff" textLength="752.55" lengthAdjust="spacingAndGlyphs"  stroke="#fff" stroke-width="1.5" stroke-linejoin="round">http://ppkt.eng.usm.my</text>
<polygon points="3483.7,3450 3586.3,3450 3535.0,3400.25" fill="#8A6DAA"/>
<polygon points="3586.3,3350.5 3586.3,3450 3535.0,3400.25" fill="#75569A"/>
<polygon points="3586.3,3450 3689.8,3450 3638.05,3400.25" fill="#8A6DAA"/>
<polygon points="3689.8,3350.5 3689.8,3450 3638.05,3400.25" fill="#75569A"/>
<polygon points="3586.3,3350.5 3586.3,3450 3638.05,3400.25" fill="#64398B"/>
<polygon points="3689.8,3450 3793.3,3450 3741.55,3400.25" fill="#8A6DAA"/>
<polygon points="3793.3,3350.5 3793.3,3450 3741.55,3400.25" fill="#75569A"/>
<polygon points="3689.8,3350.5 3689.8,3450 3741.55,3400.25" fill="#64398B"/>
<polygon points="3793.3,3450 3894,3450 3843.65,3400.25" fill="#8A6DAA"/>
<polygon points="3894,3350.5 3894,3450 3843.65,3400.25" fill="#75569A"/>
<polygon points="3793.3,3350.5 3793.3,3450 3843.65,3400.25" fill="#64398B"/>
<polygon points="3586.3,3350.5 3689.8,3350.5 3638.05,3298.25" fill="#8A6DAA"/>
<polygon points="3689.8,3246 3689.8,3350.5 3638.05,3298.25" fill="#75569A"/>
<polygon points="3689.8,3350.5 3793.3,3350.5 3741.55,3298.25" fill="#8A6DAA"/>
<polygon points="3793.3,3246 3793.3,3350.5 3741.55,3298.25" fill="#75569A"/>
<polygon points="3689.8,3246 3689.8,3350.5 3741.55,3298.25" fill="#64398B"/>
<polygon points="3793.3,3350.5 3894,3350.5 3843.65,3298.25" fill="#8A6DAA"/>
<polygon points="3894,3246 3894,3350.5 3843.65,3298.25" fill="#75569A"/>
<polygon points="3793.3,3246 3793.3,3350.5 3843.65,3298.25" fill="#64398B"/>
<polygon points="3689.8,3246 3793.3,3246 3741.55,3193.5" fill="#8A6DAA"/>
<polygon points="3793.3,3141 3793.3,3246 3741.55,3193.5" fill="#75569A"/>
<polygon points="3793.3,3246 3894,3246 3843.65,3193.5" fill="#8A6DAA"/>
<polygon points="3894,3141 3894,3246 3843.65,3193.5" fill="#75569A"/>
<rect x="3793.3" y="3135" width="110" height="12.5" fill="#44176E"/>
<defs>
<linearGradient id="phR" x1="0" y1="0" x2="0.3" y2="1"><stop offset="0" stop-color="#C21F24"/><stop offset="1" stop-color="#A11E22"/></linearGradient>
<linearGradient id="phH" x1="0" y1="1" x2="1" y2="0"><stop offset="0" stop-color="#DC444B"/><stop offset="1" stop-color="#EA8285"/></linearGradient>
<clipPath id="phC"><circle cx="815" cy="797" r="606"/></clipPath>
<linearGradient id="mlB" x1="0" y1="0" x2="0" y2="1"><stop offset="0" stop-color="#0000B8"/><stop offset="0.45" stop-color="#0008D6"/><stop offset="0.8" stop-color="#1660EE"/><stop offset="1" stop-color="#2FA8FA"/></linearGradient>
<linearGradient id="mlH" x1="0" y1="0" x2="0" y2="1"><stop offset="0" stop-color="#A2E4FF"/><stop offset="1" stop-color="#6482F4"/></linearGradient>
<radialGradient id="mlG" gradientUnits="userSpaceOnUse" cx="942" cy="1520" r="900"><stop offset="0" stop-color="#34B4FF"/><stop offset="0.35" stop-color="#1C74F2" stop-opacity="0.95"/><stop offset="0.75" stop-color="#0818D8" stop-opacity="0.5"/><stop offset="1" stop-color="#0000C8" stop-opacity="0"/></radialGradient>
<radialGradient id="glB" cx="0.5" cy="0.65" r="0.6"><stop offset="0" stop-color="#6CC4FF"/><stop offset="0.45" stop-color="#3F9BEB"/><stop offset="0.8" stop-color="#1E63C4"/><stop offset="1" stop-color="#0A3A96"/></radialGradient>
<clipPath id="glC"><circle cx="962" cy="818" r="655"/></clipPath>
</defs>
<g transform="translate(80,3370) scale(0.073893)">
<circle cx="815" cy="797" r="618" fill="#C8161D"/>
<circle cx="815" cy="797" r="600" fill="url(#phR)"/>
<g clip-path="url(#phC)"><path d="M150,960 C450,700 900,560 1500,560 L1500,100 L100,100 Z" fill="url(#phH)"/></g>
<path d="M545,1110 C440,1010 440,860 520,720 C620,560 800,440 960,412 C1010,404 1042,420 1058,445 L948,585 C905,570 870,580 840,602 C740,680 660,780 620,880 C605,922 620,950 655,975 Z" fill="#fff"/>
<polygon points="1072,486 1158,548 1048,682 968,618" fill="#fff"/>
<polygon points="680,995 752,1055 640,1192 566,1125" fill="#fff"/>
</g>
<g transform="translate(610,3365) scale(0.073893)">
<circle cx="942" cy="810" r="668" fill="#0A10A8"/>
<circle cx="942" cy="810" r="655" fill="#0000C8"/>
<circle cx="942" cy="810" r="655" fill="url(#mlG)"/>
<ellipse cx="945" cy="420" rx="428" ry="192" fill="url(#mlH)"/>
<polygon points="945,445 1315,635 1000,835 890,835 575,635" fill="#fff"/>
<polygon points="540,700 860,885 540,1100" fill="#fff"/>
<polygon points="1350,700 1030,885 1350,1100" fill="#fff"/>
<polygon points="570,1125 890,905 1000,905 1320,1125" fill="#fff"/>
</g>
<g transform="translate(1570,3370) scale(0.073893)">
<circle cx="962" cy="818" r="655" fill="url(#glB)"/>
<g clip-path="url(#glC)" fill="none" stroke-linecap="round">
<path d="M380,480 L590,445" stroke="#0B3FA0" stroke-width="62" opacity="0.35" transform="translate(10,14)"/>
<path d="M380,480 L590,445" stroke="#D2E8FF" stroke-width="46"/>
<path d="M640,230 Q590,330 590,445" stroke="#0B3FA0" stroke-width="58" opacity="0.35" transform="translate(10,14)"/>
<path d="M640,230 Q590,330 590,445" stroke="#D2E8FF" stroke-width="42"/>
<path d="M590,445 L850,520" stroke="#0B3FA0" stroke-width="52" opacity="0.35" transform="translate(10,14)"/>
<path d="M590,445 L850,520" stroke="#D2E8FF" stroke-width="36"/>
<path d="M590,445 Q580,650 645,855" stroke="#0B3FA0" stroke-width="60" opacity="0.35" transform="translate(10,14)"/>
<path d="M590,445 Q580,650 645,855" stroke="#D2E8FF" stroke-width="44"/>
<path d="M850,520 L1000,385" stroke="#0B3FA0" stroke-width="64" opacity="0.35" transform="translate(10,14)"/>
<path d="M850,520 L1000,385" stroke="#D2E8FF" stroke-width="48"/>
<path d="M935,150 Q930,300 1000,385" stroke="#0B3FA0" stroke-width="50" opacity="0.35" transform="translate(10,14)"/>
<path d="M935,150 Q930,300 1000,385" stroke="#D2E8FF" stroke-width="34"/>
<path d="M1000,385 Q1140,280 1320,230" stroke="#0B3FA0" stroke-width="76" opacity="0.35" transform="translate(10,14)"/>
<path d="M1000,385 Q1140,280 1320,230" stroke="#D2E8FF" stroke-width="60"/>
<path d="M850,520 Q720,680 645,855" stroke="#0B3FA0" stroke-width="64" opacity="0.35" transform="translate(10,14)"/>
<path d="M850,520 Q720,680 645,855" stroke="#D2E8FF" stroke-width="48"/>
<path d="M850,520 Q1180,640 1435,940" stroke="#0B3FA0" stroke-width="56" opacity="0.35" transform="translate(10,14)"/>
<path d="M850,520 Q1180,640 1435,940" stroke="#D2E8FF" stroke-width="40"/>
<path d="M1000,385 Q1200,700 1585,735" stroke="#0B3FA0" stroke-width="54" opacity="0.35" transform="translate(10,14)"/>
<path d="M1000,385 Q1200,700 1585,735" stroke="#D2E8FF" stroke-width="38"/>
<path d="M1435,940 L1585,720" stroke="#0B3FA0" stroke-width="54" opacity="0.35" transform="translate(10,14)"/>
<path d="M1435,940 L1585,720" stroke="#8DB6FF" stroke-width="38"/>
<path d="M645,855 Q740,1100 845,1275" stroke="#0B3FA0" stroke-width="60" opacity="0.35" transform="translate(10,14)"/>
<path d="M645,855 Q740,1100 845,1275" stroke="#D2E8FF" stroke-width="44"/>
<path d="M645,855 Q520,1080 560,1330" stroke="#0B3FA0" stroke-width="64" opacity="0.35" transform="translate(10,14)"/>
<path d="M645,855 Q520,1080 560,1330" stroke="#D2E8FF" stroke-width="48"/>
<path d="M845,1275 Q700,1310 570,1300" stroke="#0B3FA0" stroke-width="56" opacity="0.35" transform="translate(10,14)"/>
<path d="M845,1275 Q700,1310 570,1300" stroke="#D2E8FF" stroke-width="40"/>
<path d="M845,1275 Q1180,1180 1435,940" stroke="#0B3FA0" stroke-width="48" opacity="0.35" transform="translate(10,14)"/>
<path d="M845,1275 Q1180,1180 1435,940" stroke="#8DB6FF" stroke-width="32"/>
<path d="M845,1275 Q950,1420 1080,1480" stroke="#0B3FA0" stroke-width="56" opacity="0.35" transform="translate(10,14)"/>
<path d="M845,1275 Q950,1420 1080,1480" stroke="#8DB6FF" stroke-width="40"/>
<path d="M1435,940 Q1510,1040 1530,1160" stroke="#0B3FA0" stroke-width="56" opacity="0.35" transform="translate(10,14)"/>
<path d="M1435,940 Q1510,1040 1530,1160" stroke="#8DB6FF" stroke-width="40"/>
</g>
<ellipse cx="590" cy="445" rx="55" ry="55" fill="#F4F9FF"/>
<ellipse cx="850" cy="520" rx="68" ry="72" fill="#F4F9FF"/>
<ellipse cx="1000" cy="385" rx="46" ry="46" fill="#F4F9FF"/>
<ellipse cx="645" cy="855" rx="97" ry="97" fill="#F4F9FF"/>
<ellipse cx="1435" cy="940" rx="52" ry="78" fill="#F4F9FF"/>
<ellipse cx="845" cy="1275" rx="80" ry="66" fill="#F4F9FF"/>
<g clip-path="url(#glC)"><ellipse cx="1590" cy="720" rx="40" ry="68" fill="#F4F9FF"/></g>
</g>
<rect x="3983.2" y="3150.2" width="892.6" height="291.8" rx="42" ry="42" fill="#fff" stroke="#000" stroke-width="3.8"/>
<g transform="translate(4020,3180) scale(0.161150)">
<g transform="translate(20,20)">
<path d="M200,525 C300,330 500,140 750,130 C1000,125 1250,250 1400,350 C1200,250 1000,200 850,215 C680,235 550,380 490,525 Z" fill="#C9C9C9"/>
<path d="M165,1230 C350,1400 600,1480 800,1440 C1050,1390 1250,1180 1330,1030 L1060,1030 C1000,1180 800,1330 600,1335 C450,1340 300,1300 165,1230 Z" fill="#C9C9C9"/>
<path d="M470,570 L300,570 C190,570 140,650 140,720 C140,800 200,830 280,830 L350,830 C410,830 440,780 450,740 L330,780 C270,790 235,760 240,730 L260,700 L420,690 C470,680 490,640 470,570 Z M285,640 L400,625 C395,650 370,655 350,655 L262,668 C262,655 270,645 285,640 Z" fill="#C9C9C9" fill-rule="evenodd"/>
<text x="485" y="830" font-size="500" font-weight="bold" fill="#C9C9C9" textLength="240" lengthAdjust="spacingAndGlyphs">n</text>
<text x="1125" y="830" font-size="500" font-weight="bold" fill="#C9C9C9" textLength="1020" lengthAdjust="spacingAndGlyphs">vate</text>
<rect x="110" y="884" width="2036" height="19" fill="#C9C9C9"/>
<rect x="110" y="1013" width="2036" height="17" fill="#C9C9C9"/>
<text x="125" y="976" font-size="66" font-weight="bold" fill="#C9C9C9" textLength="2005" lengthAdjust="spacingAndGlyphs">Pusat Pengetahuan, Komunikasi &amp; Teknologi</text>
<text x="1605" y="1176" font-size="150" font-weight="bold" font-style="italic" fill="#C9C9C9" textLength="530" lengthAdjust="spacingAndGlyphs">@eng</text>
</g>
<g>
<path d="M200,525 C300,330 500,140 750,130 C1000,125 1250,250 1400,350 C1200,250 1000,200 850,215 C680,235 550,380 490,525 Z" fill="#EA4E23"/>
<path d="M165,1230 C350,1400 600,1480 800,1440 C1050,1390 1250,1180 1330,1030 L1060,1030 C1000,1180 800,1330 600,1335 C450,1340 300,1300 165,1230 Z" fill="#2B2E7F"/>
<path d="M470,570 L300,570 C190,570 140,650 140,720 C140,800 200,830 280,830 L350,830 C410,830 440,780 450,740 L330,780 C270,790 235,760 240,730 L260,700 L420,690 C470,680 490,640 470,570 Z M285,640 L400,625 C395,650 370,655 350,655 L262,668 C262,655 270,645 285,640 Z" fill="#EA4E23" fill-rule="evenodd"/>
<text x="485" y="830" font-size="500" font-weight="bold" fill="#2B2E7F" textLength="240" lengthAdjust="spacingAndGlyphs">n</text>
<text x="1125" y="830" font-size="500" font-weight="bold" fill="#2B2E7F" textLength="1020" lengthAdjust="spacingAndGlyphs">vate</text>
<rect x="110" y="884" width="2036" height="19" fill="#2B2E7F"/>
<rect x="110" y="1013" width="2036" height="17" fill="#2B2E7F"/>
<text x="125" y="976" font-size="66" font-weight="bold" fill="#2B2E7F" textLength="2005" lengthAdjust="spacingAndGlyphs">Pusat Pengetahuan, Komunikasi &amp; Teknologi</text>
<text x="1605" y="1176" font-size="150" font-weight="bold" font-style="italic" fill="#5C1F6E" textLength="530" lengthAdjust="spacingAndGlyphs">@eng</text>
</g>
<circle cx="945" cy="690" r="192" fill="#C9C9C9" transform="translate(14,14)"/>
<circle cx="945" cy="690" r="190" fill="#fff"/>
<circle cx="945" cy="690" r="183" fill="#5B2C83"/>
<circle cx="945" cy="690" r="172" fill="none" stroke="#fff" stroke-width="5"/>
<circle cx="945" cy="690" r="122" fill="#fff"/>
<defs><path id="sealT" d="M797,690 A148,148 0 0 1 1093,690"/><path id="sealB" d="M785,690 A160,160 0 0 0 1105,690"/></defs>
<text font-size="44" font-weight="bold" fill="#fff" letter-spacing="3"><textPath href="#sealT" startOffset="50%" text-anchor="middle">UNIVERSITI SAINS</textPath></text>
<text font-size="44" font-weight="bold" fill="#fff" letter-spacing="5"><textPath href="#sealB" startOffset="50%" text-anchor="middle">MALAYSIA</textPath></text>
<text x="868" y="745" font-size="150" font-weight="bold" fill="#6A1B7A" textLength="165" lengthAdjust="spacingAndGlyphs">USM</text>
<rect x="850" y="635" width="6" height="112" fill="#F08020"/><rect x="1040" y="635" width="6" height="112" fill="#F08020"/>
</g>
<g transform="translate(4630,3200) scale(0.091466)">
<path d="M295,185 H478 V1215 A73.5,73.5 0 0 0 625,1215 V185 H810 V1190 A257.5,257.5 0 0 1 295,1190 Z" fill="#47196E"/>
<rect x="810" y="185" width="1218" height="1233" fill="#47196E"/>
<path d="M1065,160 A260,260 0 0 1 1325,420 V1180 A260,260 0 0 1 1065,1440 H805 V420 A260,260 0 0 1 1065,160 Z" fill="#fff"/>
<rect x="700" y="1418" width="900" height="60" fill="#fff"/>
<rect x="805" y="120" width="600" height="65" fill="#fff"/>
<path d="M625,1215 V185 H810 V1190 A257.5,257.5 0 0 1 552,1447 L552,1288 A73.5,73.5 0 0 0 625,1215 Z" fill="#47196E"/>
<path d="M990,388 A72.5,72.5 0 0 1 1135,388 V590 H1325 V695 H990 Z" fill="#47196E"/>
<path d="M805,845 H1135 V1213 A72.5,72.5 0 0 1 990,1213 V945 H805 Z" fill="#47196E"/>
<polygon points="810,1225 1000,1418 810,1418" fill="#F28020"/>
<polygon points="1555,180 1795,180 1678,720" fill="#fff"/>
<polygon points="1505,620 1672,1420 1505,1420" fill="#fff"/>
<polygon points="1845,620 1845,1420 1684,1420" fill="#fff"/>
<rect x="190" y="185" width="31" height="1233" fill="#F28020"/>
<rect x="702" y="185" width="31" height="1233" fill="#F28020"/>
<rect x="1400" y="185" width="31" height="1233" fill="#F28020"/>
<rect x="2110" y="185" width="31" height="1233" fill="#F28020"/>
</g>
<rect x="4478.3" y="3351.6" width="347.7" height="2" fill="#333"/>
<text x="4478.5" y="3395.5" font-size="42.6" font-weight="bold" fill="#4B1E78" text-anchor="start" textLength="347.5" lengthAdjust="spacingAndGlyphs" >UNIVERSITI SAINS MALAYSIA</text>
<defs>
<g id="tiger" transform="translate(90.2,90.2) scale(0.9163)">
<path d="M235,1150 C110,1135 55,1010 120,880 C170,790 235,745 150,692" fill="none" stroke="#1a1206" stroke-width="54" stroke-linecap="round"/>
<path d="M235,1150 C110,1135 55,1010 120,880 C170,790 235,745 150,692" fill="none" stroke="#F28C1C" stroke-width="36" stroke-linecap="round"/>
<path d="M235,1150 C110,1135 55,1010 120,880 C170,790 235,745 150,692" fill="none" stroke="#1a1206" stroke-width="36" stroke-dasharray="10 30"/>
<path d="M270,190 C320,150 420,170 480,260 C520,330 530,400 525,440 L480,450 C470,400 430,360 380,330 C340,290 300,240 270,190 Z" fill="#1E9A44" stroke="#0f4a20" stroke-width="12"/>
<path d="M330,170 C430,190 500,300 515,430" fill="none" stroke="#D4B21C" stroke-width="12"/>
<g stroke="#0f4a20" stroke-width="10" fill="none"><path d="M300,215 L350,235"/><path d="M330,260 L390,275"/><path d="M365,305 L425,315"/><path d="M400,350 L455,355"/></g>
<path d="M175,460 C230,420 300,415 350,440 L440,480 L430,520 L400,540 L420,580 L385,625 L470,690 L500,640 L505,560 L490,470 L530,430 L580,480 L592,600 L572,720 L540,790 L600,900 L680,990 L660,1040 L590,1040 L545,990 L470,900 L430,960 L340,1020 L480,1040 L540,1100 L560,1190 L650,1230 L640,1265 L490,1265 L480,1200 L440,1140 L380,1150 L330,1230 L290,1330 L310,1420 L330,1470 L250,1500 L215,1470 L230,1400 L180,1330 L190,1230 L220,1140 L200,1000 L220,850 L210,700 L190,580 Z" fill="#F28C1C" stroke="#1a1206" stroke-width="13" stroke-linejoin="round"/>
<path d="M330,560 C370,600 400,630 470,690 L520,700 L540,790 L500,760 C450,700 380,660 320,620 Z" fill="#fff"/>
<path d="M490,470 L530,430 L580,480 L585,560 L505,560 Z" fill="#fff" stroke="#1a1206" stroke-width="10"/>
<path d="M560,1000 L660,985 L680,1010 L655,1040 L590,1040 Z" fill="#fff" stroke="#1a1206" stroke-width="8"/>
<path d="M585,1225 L650,1232 L640,1265 L560,1265 Z" fill="#fff" stroke="#1a1206" stroke-width="8"/>
<path d="M250,1440 L325,1425 L330,1470 L250,1500 Z" fill="#fff" stroke="#1a1206" stroke-width="8"/>
<path d="M400,540 L430,548 L420,580 Z" fill="#fff"/>
<path d="M395,560 L425,570" stroke="#C22" stroke-width="8"/>
<circle cx="335" cy="475" r="13" fill="#fff" stroke="#1a1206" stroke-width="6"/>
<g stroke="#1a1206" stroke-width="14" fill="none" stroke-linecap="round">
<path d="M215,620 L300,650"/><path d="M215,690 L330,720"/><path d="M222,760 L360,780"/><path d="M222,830 L400,840"/><path d="M215,900 L370,905"/>
<path d="M208,970 L340,960"/><path d="M208,1040 L300,1020"/><path d="M215,1110 L320,1090"/><path d="M200,1200 L300,1180"/><path d="M195,1280 L290,1270"/><path d="M215,1360 L290,1350"/>
<path d="M480,800 L530,830"/><path d="M520,860 L575,900"/><path d="M565,930 L620,960"/>
<path d="M400,1060 L440,1120"/><path d="M450,1060 L490,1130"/><path d="M500,1090 L530,1160"/>
<path d="M520,610 L580,620"/><path d="M525,670 L575,680"/><path d="M530,730 L565,738"/>
<path d="M230,500 L275,530"/><path d="M265,460 L300,500"/>
</g>
<path d="M340,1030 C380,1010 420,1030 430,1060 L380,1080 Z" fill="#1a1206"/>
</g>
</defs>
<g transform="translate(4460,3165) scale(0.110865)">
<use href="#tiger"/>
<use href="#tiger" transform="translate(1660,0) scale(-1,1)"/>
<polygon points="700,470 960,470 1005,560 1005,1185 830,1392 655,1185 655,560" fill="#4B2A86" stroke="#241040" stroke-width="8"/>
<rect x="690" y="430" width="278" height="42" rx="21" fill="#F28C1C" stroke="#1a1206" stroke-width="6"/>
<circle cx="715" cy="451" r="17" fill="#fff"/>
<circle cx="775" cy="451" r="17" fill="#fff"/>
<circle cx="830" cy="451" r="17" fill="#fff"/>
<circle cx="885" cy="451" r="17" fill="#fff"/>
<circle cx="945" cy="451" r="17" fill="#fff"/>
<circle cx="830" cy="278" r="143" fill="#F5D83A" stroke="#1a1206" stroke-width="8"/>
<circle cx="830" cy="236" r="124" fill="#fff"/>
<path d="M712,200 A124,124 0 0 0 948,200" fill="none" stroke="#1a1206" stroke-width="7" transform="translate(0,36)"/>
<polygon points="830.0,132.0 845.6,171.8 876.9,142.7 873.6,185.3 914.4,172.7 893.1,209.6 935.3,216.0 900.0,240.0 935.3,264.0 893.1,270.4 914.4,307.3 873.6,294.7 876.9,337.3 845.6,308.2 830.0,348.0 814.4,308.2 783.1,337.3 786.4,294.7 745.6,307.3 766.9,270.4 724.7,264.0 760.0,240.0 724.7,216.0 766.9,209.6 745.6,172.7 786.4,185.3 783.1,142.7 814.4,171.8" fill="#F5D83A" stroke="#1a1206" stroke-width="6"/>
<rect x="683" y="618" width="300" height="185" fill="#B8860B" stroke="#3a2a06" stroke-width="6"/>
<path d="M705,625 C750,600 800,605 833,630 C866,605 916,600 960,625 L960,775 C916,755 866,760 833,780 C800,760 750,755 705,775 Z" fill="#fff" stroke="#c9a21c" stroke-width="5"/>
<path d="M760,612 L775,768 M800,606 L800,765 M870,606 L866,765 M915,612 L900,768" stroke="#F2D23A" stroke-width="16" fill="none" opacity="0.9"/>
<path d="M775,510 L820,600 M890,510 L845,600" stroke="#E9C62E" stroke-width="12" fill="none"/>
<path d="M690,830 C760,850 790,840 800,815 L760,805 C750,820 720,825 690,815 Z" fill="#E9C62E" stroke="#3a2a06" stroke-width="4"/>
<path d="M975,830 C905,850 875,840 865,815 L905,805 C915,820 945,825 975,815 Z" fill="#E9C62E" stroke="#3a2a06" stroke-width="4"/>
<path d="M685,905 C720,930 750,925 765,895" stroke="#B5651D" stroke-width="26" fill="none" stroke-linecap="round"/>
<path d="M975,905 C940,930 910,925 895,895" stroke="#B5651D" stroke-width="26" fill="none" stroke-linecap="round"/>
<circle cx="830.0" cy="1056.0" r="66" fill="#EE2A24"/>
<circle cx="898.5" cy="1105.8" r="66" fill="#EE2A24"/>
<circle cx="872.3" cy="1186.2" r="66" fill="#EE2A24"/>
<circle cx="787.7" cy="1186.2" r="66" fill="#EE2A24"/>
<circle cx="761.5" cy="1105.8" r="66" fill="#EE2A24"/>
<circle cx="830.0" cy="1066.0" r="44" fill="#F7941D"/>
<circle cx="889.0" cy="1108.8" r="44" fill="#F7941D"/>
<circle cx="866.4" cy="1178.2" r="44" fill="#F7941D"/>
<circle cx="793.6" cy="1178.2" r="44" fill="#F7941D"/>
<circle cx="771.0" cy="1108.8" r="44" fill="#F7941D"/>
<circle cx="830" cy="1128" r="40" fill="#EE2A24"/>
<path d="M830,1128 C790,1090 740,1075 690,1085" stroke="#F5D83A" stroke-width="16" fill="none" stroke-linecap="round"/>
<path d="M300,1360 C330,1300 420,1280 520,1300 L560,1340 L500,1420 C470,1400 420,1400 380,1430 L350,1530 L290,1460 Z" fill="#F6C92B" stroke="#1a1206" stroke-width="8"/>
<path d="M1360,1360 C1330,1300 1240,1280 1140,1300 L1100,1340 L1160,1420 C1190,1400 1240,1400 1280,1430 L1310,1530 L1370,1460 Z" fill="#F6C92B" stroke="#1a1206" stroke-width="8"/>
<path d="M480,1390 C700,1480 960,1480 1180,1390 L1170,1475 C960,1560 700,1560 490,1475 Z" fill="#F6C92B" stroke="#1a1206" stroke-width="8"/>
<defs><path id="ribT" d="M520,1455 C720,1535 940,1535 1140,1455"/></defs>
<text font-size="62" font-weight="bold" font-style="italic" fill="#1a1206"><textPath href="#ribT" startOffset="50%" text-anchor="middle" textLength="560" lengthAdjust="spacingAndGlyphs">KAMI MEMIMPIN</textPath></text>
</g>
</svg>
</body></html>
